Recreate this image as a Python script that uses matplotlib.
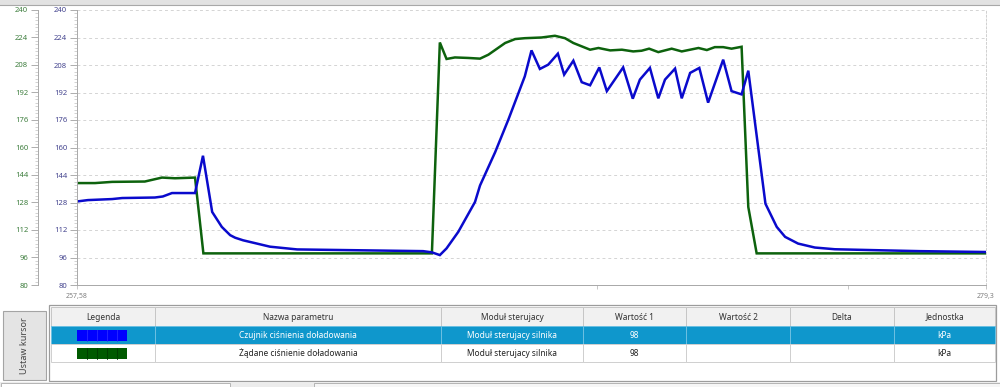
import matplotlib
matplotlib.use('Agg')
import matplotlib.pyplot as plt
from matplotlib.patches import Rectangle
from matplotlib import ticker

plt.rcParams['font.family'] = ['Noto Sans', 'DejaVu Sans']

# %% data (time, kPa)
t_blue = [257.58, 257.84, 258.42, 258.66, 259.44, 259.63, 259.85, 260.40, 260.59,
          260.81, 261.04, 261.24, 261.36, 261.55, 262.19, 262.84, 264.03, 265.85,
          266.06, 266.25, 266.41, 266.69, 267.09, 267.21, 267.57, 267.89, 268.28,
          268.44, 268.64, 268.84, 269.07, 269.22, 269.44, 269.64, 269.84, 270.06,
          270.24, 270.63, 270.86, 271.03, 271.27, 271.47, 271.63, 271.87, 272.03,
          272.23, 272.45, 272.66, 273.02, 273.22, 273.46, 273.62, 274.03, 274.30,
          274.50, 274.81, 275.21, 275.69, 276.77, 277.72, 279.30]
p_blue = [128.6, 129.4, 130.0, 130.6, 130.9, 131.5, 133.5, 133.5, 155.2,
          122.5, 113.8, 109.0, 107.5, 106.0, 102.3, 100.7, 100.3, 99.7,
          99.0, 97.4, 101.3, 110.9, 128.3, 137.9, 157.2, 176.4, 201.4,
          216.5, 205.7, 208.2, 214.6, 202.4, 210.5, 198.0, 196.2, 206.6,
          192.8, 206.6, 188.4, 199.5, 206.3, 188.6, 199.5, 205.9, 188.6,
          203.4, 206.3, 186.1, 211.1, 192.8, 190.9, 204.7, 127.3, 113.8,
          108.0, 104.1, 101.8, 100.8, 100.2, 99.7, 99.2]

t_green = [257.58, 258.01, 258.42, 259.20, 259.61, 259.92, 260.16, 260.40, 260.60,
           266.06, 266.25, 266.41, 266.61, 266.93, 267.21, 267.41, 267.81, 268.05,
           268.28, 268.68, 269.00, 269.24, 269.44, 269.84, 270.04, 270.32, 270.60,
           270.87, 271.07, 271.25, 271.47, 271.79, 272.03, 272.43, 272.63, 272.82,
           273.02, 273.22, 273.46, 273.62, 273.82, 279.30]
p_green = [139.3, 139.3, 140.0, 140.2, 142.5, 142.1, 142.3, 142.5, 98.4,
           98.4, 221.1, 211.5, 212.4, 212.1, 211.7, 214.0, 220.8, 223.1,
           223.6, 224.0, 225.0, 223.6, 220.8, 216.9, 217.9, 216.5, 216.9,
           215.9, 216.3, 217.5, 215.5, 217.5, 215.9, 217.9, 216.7, 218.4,
           218.4, 217.5, 218.6, 125.4, 98.4, 98.4]

y_ticks = list(range(80, 241, 16))
x_ticks = [257.58, 279.3]
x_tick_labels = ['257,58', '279,3']

columns = ['Legenda', 'Nazwa parametru', 'Moduł sterujacy', 'Wartość 1',
           'Wartość 2', 'Delta', 'Jednostka']
row_names = ['Czujnik ciśnienia doładowania', 'Żądane ciśnienie doładowania']
row_modules = ['Moduł sterujacy silnika', 'Moduł sterujacy silnika']
row_val1 = ['98', '98']
row_val2 = ['', '']
row_delta = ['', '']
row_units = ['kPa', 'kPa']

BLUE = '#0a0acc'
GREEN = '#0d620d'
W, H = 1000, 387

# %% figure + screen-space overlay for the widgets
fig = plt.figure(figsize=(W / 100, H / 100), dpi=100)
ui = fig.add_axes([0, 0, 1, 1])
ui.set_xlim(0, W)
ui.set_ylim(H, 0)
ui.axis('off')
ui.set_zorder(0)

# main chart (blue scale)
x0, x1, y0, y1 = 77, 986, 10, 285
ax = fig.add_axes([x0 / W, 1 - y1 / H, (x1 - x0) / W, (y1 - y0) / H])
ax.set_zorder(2)
ax.plot(t_green, p_green, color=GREEN, lw=1.8, solid_joinstyle='miter')
ax.plot(t_blue, p_blue, color=BLUE, lw=1.8, solid_joinstyle='miter')
ax.set_xlim(257.58, 279.3)
ax.set_ylim(80, 240)
ax.set_yticks(y_ticks)
ax.yaxis.set_minor_locator(ticker.MultipleLocator(2))
ax.tick_params(axis='y', which='major', length=5, width=0.6, color='#a0a0a0',
               labelcolor='#45458f', labelsize=5.5, pad=2)
ax.tick_params(axis='y', which='minor', length=2.5, width=0.5, color='#c0c0c0')
ax.set_xticks(x_ticks, x_tick_labels)
ax.set_xticks([270, 276], minor=True)
ax.tick_params(axis='x', which='both', length=3, width=0.5, color='#b0b0b0',
               labelcolor='#808080', labelsize=5, pad=3)
ax.grid(axis='y', which='major', ls=(0, (3, 3)), color='#d4d4d4', lw=0.7)
ax.set_axisbelow(True)
for s in ['left', 'bottom']:
    ax.spines[s].set_color('#a8a8a8')
    ax.spines[s].set_linewidth(0.7)
ax.spines['top'].set_visible(False)
ax.spines['right'].set_color('#d0d0d0')
ax.spines['right'].set_linestyle((0, (2, 2)))
ax.spines['right'].set_linewidth(0.7)

# second (green) scale further left
gax = ax.twinx()
gax.set_ylim(80, 240)
gax.spines['left'].set_position(('axes', (38 - x0) / (x1 - x0)))
gax.yaxis.set_ticks_position('left')
gax.yaxis.set_label_position('left')
for s in ['right', 'top', 'bottom']:
    gax.spines[s].set_visible(False)
gax.spines['left'].set_color('#a8a8a8')
gax.spines['left'].set_linewidth(0.7)
gax.set_yticks(y_ticks)
gax.yaxis.set_minor_locator(ticker.MultipleLocator(2))
gax.tick_params(axis='y', which='major', length=5, width=0.6, color='#a0a0a0',
                labelcolor='#3f7f3f', labelsize=5.5, pad=2)
gax.tick_params(axis='y', which='minor', length=2.5, width=0.5, color='#c0c0c0')

# %% window chrome
ui.add_patch(Rectangle((0, 0), W, 5, fc='#e2e2e2', ec='none'))
ui.plot([0, W], [5, 5], color='#a8a8a8', lw=0.8)

# "Ustaw kursor" button
ui.add_patch(Rectangle((3, 311), 43, 69, fc='#e4e4e4', ec='#a4a4a4', lw=0.8))
ui.text(24.5, 345.5, 'Ustaw kursor', rotation=90, ha='center', va='center',
        fontsize=6.5, color='#444444')

# table frame
tl, tr, tt, tb = 49, 996, 305, 381
ui.add_patch(Rectangle((tl, tt), tr - tl, tb - tt, fc='white', ec='#9c9c9c', lw=0.9))
col_edges = [51, 155, 441, 583, 686, 790, 894, 995]
row_edges = [307, 326, 344, 362]

# header
for i, name in enumerate(columns):
    a, b = col_edges[i], col_edges[i + 1]
    ui.add_patch(Rectangle((a, row_edges[0]), b - a, row_edges[1] - row_edges[0],
                           fc='#f1f1f1', ec='#c6c6c6', lw=0.7))
    ui.text((a + b) / 2, (row_edges[0] + row_edges[1]) / 2 + 0.5, name,
            ha='center', va='center', fontsize=6, color='#333333')

# rows
rows = list(zip(row_names, row_modules, row_val1, row_val2, row_delta, row_units))
swatch_colors = [('#0000ff', '#2a2aff'), ('#005a00', '#003a00')]
for r, vals in enumerate(rows):
    top, bot = row_edges[r + 1], row_edges[r + 2]
    selected = r == 0
    fc = '#0f97cc' if selected else 'white'
    ec = '#6cc0e2' if selected else '#cfcfcf'
    tc = 'white' if selected else '#222222'
    for i in range(len(columns)):
        a, b = col_edges[i], col_edges[i + 1]
        ui.add_patch(Rectangle((a, top), b - a, bot - top, fc=fc, ec=ec, lw=0.7))
    # legend swatch (segmented bar)
    sc, lc = swatch_colors[r]
    sx, sw, sh = 77, 50, 11
    sy = (top + bot) / 2 - sh / 2
    ui.add_patch(Rectangle((sx, sy), sw, sh, fc=sc, ec='none'))
    for k in range(1, 5):
        ui.plot([sx + k * sw / 5] * 2, [sy, sy + sh], color=lc, lw=0.6)
    for i, v in enumerate(vals):
        a, b = col_edges[i + 1], col_edges[i + 2]
        ui.text((a + b) / 2, (top + bot) / 2 + 0.5, v, ha='center', va='center',
                fontsize=6, color=tc)

# bottom tab strip
ui.add_patch(Rectangle((0, 382), W, 5, fc='#ececec', ec='none'))
ui.add_patch(Rectangle((1, 382.5), 229, 6, fc='white', ec='#b4b4b4', lw=0.7))
ui.add_patch(Rectangle((314, 382.5), 686, 6, fc='#f6f6f6', ec='#b4b4b4', lw=0.7))

fig.savefig('out.png', dpi=100)
